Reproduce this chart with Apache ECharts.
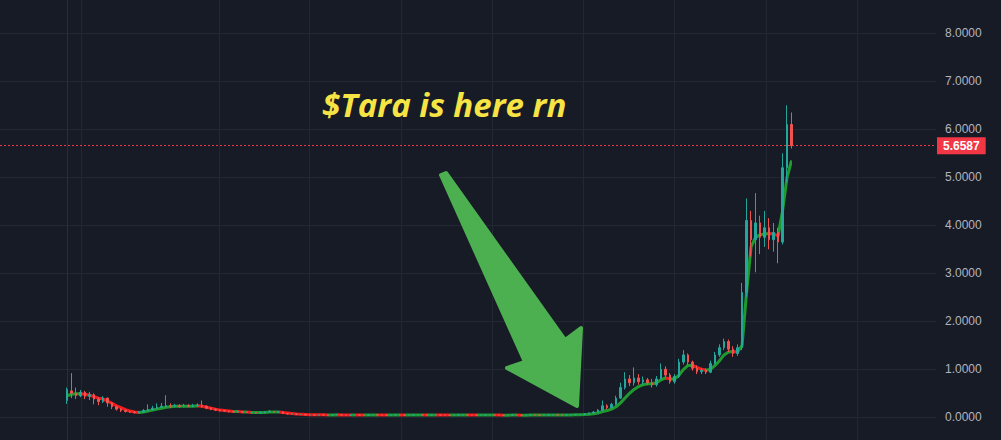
<!DOCTYPE html>
<html>
<head>
<meta charset="utf-8">
<script src="https://cdn.jsdelivr.net/npm/echarts@6/dist/echarts.min.js"></script>
<style>
html,body{margin:0;padding:0;background:#171b26;}
#chart{width:1001px;height:440px;}
</style>
</head>
<body>
<div id="chart"></div>
<script>
// ---- data ----
const opens = [
0.35,0.55,0.50,0.45,0.52,0.44,0.47,0.38,0.33,0.40,
0.30,0.22,0.17,0.14,0.12,0.11,0.10,0.11,0.14,0.16,
0.19,0.21,0.23,0.24,0.23,0.24,0.23,0.24,0.23,0.24,
0.25,0.23,0.19,0.17,0.15,0.14,0.13,0.12,0.11,0.12,
0.11,0.10,0.10,0.09,0.10,0.11,0.12,0.11,0.11,0.08,
0.07,0.07,0.06,0.06,0.05,0.05,0.045,0.05,0.048,0.045,
0.050,0.052,0.048,0.045,0.047,0.050,0.046,0.044,0.048,0.050,
0.047,0.045,0.043,0.046,0.049,0.047,0.045,0.048,0.050,0.052,
0.049,0.046,0.048,0.050,0.047,0.045,0.044,0.046,0.048,0.050,
0.048,0.046,0.044,0.045,0.047,0.049,0.047,0.045,0.043,0.045,
0.047,0.046,0.044,0.046,0.048,0.047,0.045,0.046,0.048,0.050,
0.049,0.047,0.050,0.053,0.056,0.06,0.07,0.09,0.11,0.15,
0.24,0.20,0.27,0.40,0.62,0.80,0.72,0.82,0.74,0.78,
0.72,0.68,0.80,1.00,0.88,0.74,0.85,1.15,1.30,1.15,
1.02,0.95,0.98,0.94,1.12,1.30,1.45,1.58,1.42,1.33,
1.45,2.60,4.10,3.70,4.05,3.75,3.95,3.70,3.85,3.65,
5.20,6.10];
const closes = [
0.58,0.50,0.45,0.52,0.44,0.47,0.38,0.33,0.40,0.30,
0.22,0.17,0.14,0.12,0.11,0.10,0.11,0.14,0.16,0.19,
0.21,0.23,0.24,0.23,0.24,0.23,0.24,0.23,0.24,0.25,
0.23,0.19,0.17,0.15,0.14,0.13,0.12,0.11,0.12,0.11,
0.10,0.10,0.09,0.10,0.11,0.12,0.11,0.11,0.08,0.07,
0.07,0.06,0.06,0.05,0.05,0.045,0.05,0.048,0.045,0.05,
0.052,0.048,0.045,0.047,0.050,0.046,0.044,0.048,0.050,0.047,
0.045,0.043,0.046,0.049,0.047,0.045,0.048,0.050,0.052,0.049,
0.046,0.048,0.050,0.047,0.045,0.044,0.046,0.048,0.050,0.048,
0.046,0.044,0.045,0.047,0.049,0.047,0.045,0.043,0.045,0.047,
0.046,0.044,0.046,0.048,0.047,0.045,0.046,0.048,0.050,0.049,
0.047,0.050,0.053,0.056,0.06,0.07,0.09,0.11,0.15,0.24,
0.20,0.27,0.40,0.62,0.80,0.72,0.82,0.74,0.78,0.72,
0.68,0.80,1.00,0.88,0.74,0.85,1.15,1.30,1.15,1.02,
0.95,0.98,0.94,1.12,1.30,1.45,1.58,1.42,1.33,1.45,
2.60,4.10,3.70,4.05,3.75,3.95,3.70,3.85,3.65,5.20,
6.10,5.6587];
const lows = [
0.28,0.40,0.38,0.42,0.38,0.36,0.27,0.25,0.30,0.22,
0.17,0.14,0.11,0.10,0.09,0.08,0.08,0.10,0.12,0.14,
0.17,0.19,0.20,0.20,0.21,0.20,0.21,0.21,0.21,0.22,
0.20,0.17,0.15,0.13,0.12,0.11,0.10,0.10,0.10,0.09,
0.09,0.08,0.08,0.08,0.09,0.10,0.10,0.09,0.07,0.06,
0.06,0.05,0.05,0.04,0.044,0.040,0.040,0.044,0.040,0.040,
0.046,0.044,0.040,0.041,0.044,0.042,0.040,0.040,0.044,0.043,
0.041,0.039,0.040,0.042,0.043,0.041,0.041,0.044,0.046,0.045,
0.042,0.042,0.044,0.043,0.041,0.040,0.040,0.042,0.044,0.044,
0.042,0.040,0.040,0.041,0.043,0.043,0.041,0.039,0.039,0.041,
0.042,0.040,0.040,0.042,0.043,0.041,0.041,0.042,0.044,0.045,
0.043,0.043,0.046,0.049,0.050,0.05,0.06,0.08,0.10,0.13,
0.17,0.18,0.25,0.38,0.58,0.65,0.66,0.68,0.68,0.67,
0.62,0.64,0.78,0.84,0.70,0.70,0.82,1.10,1.08,0.97,
0.90,0.90,0.90,0.92,1.10,1.26,1.40,1.36,1.26,1.28,
1.40,2.50,3.35,3.02,3.40,3.55,3.50,3.45,3.21,3.60,
4.90,5.60];
const highs = [
0.62,0.92,0.62,0.57,0.55,0.53,0.50,0.42,0.44,0.41,
0.32,0.24,0.19,0.16,0.13,0.13,0.13,0.17,0.27,0.24,
0.29,0.30,0.46,0.29,0.28,0.27,0.28,0.27,0.28,0.29,
0.35,0.25,0.21,0.19,0.17,0.15,0.14,0.13,0.14,0.13,
0.12,0.12,0.11,0.12,0.13,0.15,0.13,0.13,0.12,0.09,
0.08,0.08,0.07,0.07,0.056,0.055,0.055,0.056,0.054,0.055,
0.058,0.056,0.053,0.052,0.055,0.054,0.050,0.053,0.055,0.054,
0.052,0.049,0.051,0.054,0.054,0.051,0.053,0.055,0.057,0.056,
0.054,0.053,0.055,0.054,0.051,0.050,0.052,0.053,0.055,0.055,
0.053,0.051,0.050,0.052,0.054,0.054,0.052,0.050,0.050,0.052,
0.052,0.051,0.051,0.053,0.053,0.052,0.052,0.053,0.055,0.055,
0.054,0.055,0.058,0.062,0.07,0.08,0.10,0.13,0.17,0.35,
0.27,0.30,0.45,0.72,0.94,0.88,1.04,0.90,0.85,0.82,
0.80,0.86,1.12,1.06,0.92,0.90,1.22,1.40,1.33,1.18,
1.08,1.03,1.02,1.18,1.36,1.52,1.64,1.62,1.48,1.52,
2.80,4.56,4.30,4.67,4.20,4.30,4.15,4.05,3.95,5.50,
6.50,6.35];
// thick smoothed trend line drawn under the candles
const trend = [
0.45,0.48,0.49,0.49,0.48,0.46,0.43,0.40,0.38,0.34,
0.29,0.24,0.20,0.16,0.13,0.11,0.10,0.11,0.13,0.15,
0.17,0.19,0.21,0.22,0.23,0.23,0.23,0.23,0.23,0.24,
0.23,0.21,0.19,0.17,0.15,0.14,0.13,0.12,0.12,0.11,
0.11,0.10,0.10,0.10,0.10,0.11,0.11,0.11,0.10,0.09,
0.08,0.07,0.065,0.06,0.055,0.053,0.052,0.051,0.050,0.050,
0.051,0.050,0.049,0.048,0.049,0.048,0.047,0.047,0.048,0.048,
0.047,0.046,0.046,0.047,0.047,0.046,0.047,0.048,0.049,0.049,
0.048,0.048,0.049,0.048,0.047,0.046,0.046,0.047,0.048,0.048,
0.047,0.046,0.046,0.046,0.047,0.047,0.046,0.045,0.045,0.046,
0.046,0.045,0.045,0.046,0.046,0.046,0.046,0.047,0.048,0.048,
0.048,0.049,0.050,0.052,0.054,0.058,0.064,0.072,0.088,0.12,
0.14,0.17,0.22,0.30,0.40,0.50,0.58,0.64,0.68,0.70,
0.70,0.72,0.78,0.82,0.80,0.80,0.88,1.00,1.08,1.08,
1.04,1.00,0.98,1.00,1.08,1.18,1.30,1.36,1.37,1.36,
1.50,2.60,3.55,3.75,3.80,3.82,3.83,3.82,3.78,4.30,
5.00,5.35];
const yTickValues = [0, 1, 2, 3, 4, 5, 6, 7, 8];
const annotationText = '$Tara is here rn';

// ---- styles ----
const BG = '#171b26', GRID = '#232733';
const UP = '#26a69a', DOWN = '#ef5350';
const T_UP = '#1f9a2e', T_DOWN = '#f21c1c';
const PRICE = '#f23645';

const candleData = opens.map((o, i) => [i, o, closes[i], lows[i], highs[i]]);
const trendData = trend.map((v, i) => [i, v]);
const lastClose = closes[closes.length - 1];

// colour the trend line green where it rises, red where it falls
const pieces = [];
for (let i = 1; i < trend.length; i++) {
  const color = trend[i] >= trend[i - 1] ? T_UP : T_DOWN;
  const last = pieces[pieces.length - 1];
  if (last && last.color === color) last.lte = i;
  else pieces.push({ gt: i - 1, lte: i, color: color });
}
delete pieces[0].gt; pieces[0].gte = 0;

const chart = echarts.init(document.getElementById('chart'), null, { renderer: 'svg' });
chart.setOption({
  backgroundColor: BG,
  animation: false,
  grid: { left: 0, right: 65, top: 0, bottom: 0 },
  xAxis: {
    type: 'value', min: -14.9, max: 193.1,
    axisLine: { show: false }, axisLabel: { show: false },
    axisTick: { show: false, customValues: [3.1, 33.8, 53.8, 74.2, 94.4, 114.7, 134.9, 155.3, 175.6] },
    splitLine: { show: true, lineStyle: { color: GRID, width: 1 } }
  },
  yAxis: {
    type: 'value', position: 'right', min: -0.473, max: 8.694, scale: true,
    axisLine: { show: true, lineStyle: { color: '#2a2e39', width: 1 } },
    axisTick: { show: false, customValues: yTickValues },
    axisLabel: {
      customValues: yTickValues, margin: 9, color: '#b2b5be', fontSize: 12,
      fontFamily: 'Liberation Sans', formatter: v => v.toFixed(4)
    },
    splitLine: { show: true, lineStyle: { color: GRID, width: 1 } }
  },
  visualMap: {
    show: false, type: 'piecewise', seriesIndex: 0, dimension: 0,
    pieces: pieces
  },
  series: [
    {
      type: 'line', data: trendData, showSymbol: false, symbol: 'none',
      lineStyle: { width: 3 }, z: 1, silent: true
    },
    {
      type: 'candlestick', data: candleData, encode: { x: 0, y: [1, 2, 3, 4] },
      barWidth: 2, z: 2,
      itemStyle: { color: UP, color0: DOWN, borderColor: UP, borderColor0: DOWN, borderWidth: 1 },
      markLine: {
        silent: true, symbol: ['none', 'none'], animation: false, precision: 4,
        lineStyle: { color: PRICE, type: [2, 2], width: 1, opacity: 1 },
        label: {
          show: true, position: 'end', distance: 1,
          formatter: () => lastClose.toFixed(4),
          backgroundColor: PRICE, color: '#ffffff', fontSize: 12, fontWeight: 'bold',
          fontFamily: 'Liberation Sans', padding: [3, 6, 2, 6]
        },
        emphasis: { disabled: true },
        data: [{ yAxis: lastClose, lineStyle: { color: PRICE } }]
      }
    }
  ],
  graphic: [
    {
      type: 'polygon', z: 100,
      shape: { points: [[441, 175], [525, 362], [507, 368], [577, 406], [581, 328], [565, 340], [446, 173]] },
      style: { fill: '#4caf50', stroke: '#4caf50', lineWidth: 4, lineJoin: 'round' }
    },
    {
      type: 'text', z: 100, x: 322, y: 104,
      style: {
        text: annotationText, fill: '#f6e445',
        font: 'italic bold 33px "Open Sans"', verticalAlign: 'middle', align: 'left'
      }
    }
  ]
});
</script>
</body>
</html>
